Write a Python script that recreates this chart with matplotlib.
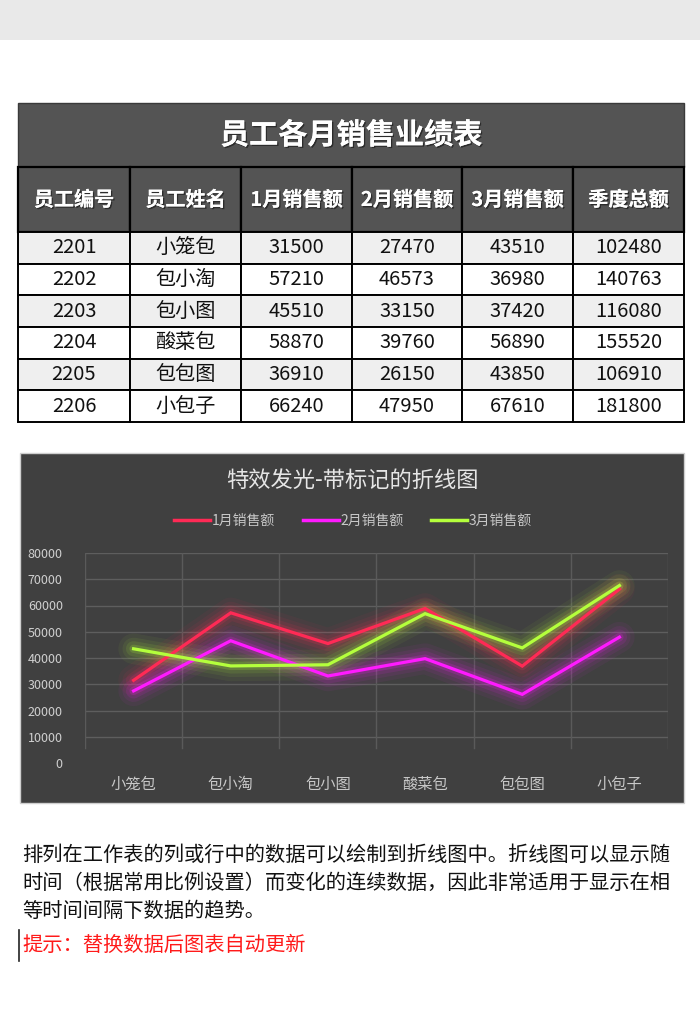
import matplotlib.pyplot as plt
from matplotlib.patches import Rectangle
from matplotlib.lines import Line2D
import matplotlib.patheffects as pe

plt.rcParams['font.family'] = ['Noto Sans CJK SC', 'DejaVu Sans']

# table data
table_title = "员工各月销售业绩表"
headers = ["员工编号", "员工姓名", "1月销售额", "2月销售额", "3月销售额", "季度总额"]
emp_ids = ["2201", "2202", "2203", "2204", "2205", "2206"]
names = ["小笼包", "包小淘", "包小图", "酸菜包", "包包图", "小包子"]
jan = [31500, 57210, 45510, 58870, 36910, 66240]
feb = [27470, 46573, 33150, 39760, 26150, 47950]
mar = [43510, 36980, 37420, 56890, 43850, 67610]
total = [102480, 140763, 116080, 155520, 106910, 181800]

# chart data
chart_title = "特效发光-带标记的折线图"
series_names = ["1月销售额", "2月销售额", "3月销售额"]
series_colors = ["#ff2a55", "#ff1aff", "#b4ff3c"]
y_ticks = [0, 10000, 20000, 30000, 40000, 50000, 60000, 70000, 80000]

para_lines = [
    "排列在工作表的列或行中的数据可以绘制到折线图中。折线图可以显示随",
    "时间（根据常用比例设置）而变化的连续数据，因此非常适用于显示在相",
    "等时间间隔下数据的趋势。",
]
hint = "提示：替换数据后图表自动更新"

W, H = 700, 1030
fig = plt.figure(figsize=(W / 100, H / 100), dpi=100)
fig.patch.set_facecolor("white")

# page-level axes in pixel coordinates
bg = fig.add_axes([0, 0, 1, 1])
bg.set_xlim(0, W)
bg.set_ylim(H, 0)
bg.axis("off")

bg.add_patch(Rectangle((0, 0), W, 40, facecolor="#e9e9e9", edgecolor="none"))

# ---- table ----
col_edges = [18, 130, 241, 352, 462, 573, 684]
title_top, head_top, body_top, body_bot = 103, 167, 232, 422
row_h = (body_bot - body_top) / len(emp_ids)
shadow = [pe.withSimplePatchShadow(offset=(1, -1), shadow_rgbFace="#222222", alpha=0.8), pe.Normal()]

bg.add_patch(Rectangle((col_edges[0], title_top), col_edges[-1] - col_edges[0], head_top - title_top,
                       facecolor="#545454", edgecolor="#3a3a3a", lw=1))
bg.text((col_edges[0] + col_edges[-1]) / 2, (title_top + head_top) / 2, table_title,
        color="white", fontsize=21, fontweight="bold", ha="center", va="center", path_effects=shadow)

for i, h in enumerate(headers):
    x0, x1 = col_edges[i], col_edges[i + 1]
    bg.add_patch(Rectangle((x0, head_top), x1 - x0, body_top - head_top,
                           facecolor="#545454", edgecolor="black", lw=1.6))
    bg.text((x0 + x1) / 2, (head_top + body_top) / 2, h, color="white", fontsize=14.5,
            fontweight="bold", ha="center", va="center", path_effects=shadow)

rows = list(zip(emp_ids, names, jan, feb, mar, total))
for r, row in enumerate(rows):
    y0 = body_top + r * row_h
    face = "#efefef" if r % 2 == 0 else "white"
    for c, val in enumerate(row):
        x0, x1 = col_edges[c], col_edges[c + 1]
        bg.add_patch(Rectangle((x0, y0), x1 - x0, row_h, facecolor=face, edgecolor="black", lw=1.4))
        bg.text((x0 + x1) / 2, y0 + row_h / 2, str(val), color="#111111", fontsize=14.5,
                ha="center", va="center")

# ---- chart ----
bg.add_patch(Rectangle((20, 453), 664, 350, facecolor="#404040", edgecolor="#cfcfcf", lw=1))
bg.text(352, 480, chart_title, color="#e6e6e6", fontsize=16, ha="center", va="center")

px0, px1, py_top, py_bot = 85, 668, 553, 763
ax = fig.add_axes([px0 / W, 1 - py_bot / H, (px1 - px0) / W, (py_bot - py_top) / H])
ax.set_facecolor("none")
cats = list(range(len(names)))
ax.set_xlim(-0.5, len(names) - 0.5)
ax.set_ylim(0, 80000)

for y in y_ticks[1:]:
    ax.axhline(y, color="#5e5e5e", lw=1, zorder=0)
for b in range(len(names) + 1):
    ax.axvline(b - 0.5, ymin=0.07, color="#5a5a5a", lw=1, zorder=0)

for vals, col in zip([jan, feb, mar], series_colors):
    for lw, a in [(22, 0.05), (16, 0.07), (11, 0.1), (6, 0.18)]:
        ax.plot(cats, vals, color=col, lw=lw, alpha=a, solid_capstyle="round",
                solid_joinstyle="round", zorder=2)
    ax.plot(cats, vals, color=col, lw=2.3, zorder=3, solid_joinstyle="miter")

for s in ax.spines.values():
    s.set_visible(False)
ax.set_yticks(y_ticks)
ax.set_yticklabels([str(v) for v in y_ticks], fontsize=9, color="#d0d0d0")
ax.set_xticks(cats)
ax.set_xticklabels(names, fontsize=11, color="#c8c8c8")
ax.tick_params(axis="y", length=0, pad=16)
ax.tick_params(axis="x", length=0, pad=9)

handles = [Line2D([0], [0], color=c, lw=2.5) for c in series_colors]
leg = fig.legend(handles, series_names, loc="center", bbox_to_anchor=(353 / W, 1 - 521 / H),
                 ncol=3, frameon=False, fontsize=10, handlelength=2.6, handletextpad=0.1,
                 columnspacing=2.0)
for t in leg.get_texts():
    t.set_color("#c8c8c8")

# ---- paragraph ----
for i, line in enumerate(para_lines):
    bg.text(22, 855 + i * 28, line, color="#111111", fontsize=14.6, ha="left", va="center")
bg.plot([19, 19], [930, 961], color="#222222", lw=1.2)
bg.text(22, 945, hint, color="#ff1a1a", fontsize=14.6, ha="left", va="center")

fig.savefig("out.png", dpi=100)
